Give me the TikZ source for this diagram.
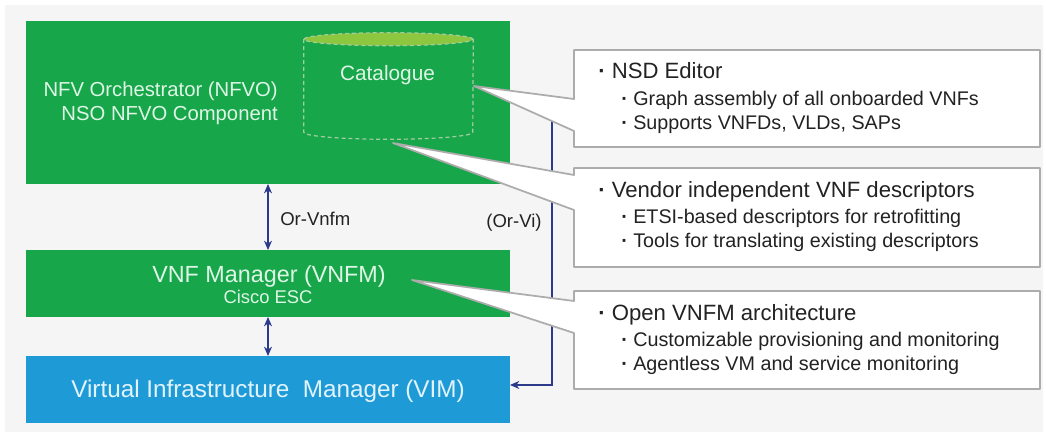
\documentclass[tikz,border=0pt]{standalone}
\usepackage{fontspec}
\setmainfont{Liberation Sans}
\usetikzlibrary{arrows.meta,calc}

\definecolor{bggrey}{RGB}{245,245,245}
\definecolor{nfvgreen}{RGB}{24,166,74}
\definecolor{catgreen}{RGB}{141,198,63}
\definecolor{vimblue}{RGB}{30,155,215}
\definecolor{mint}{RGB}{222,246,230}
\definecolor{skytext}{RGB}{226,243,252}
\definecolor{navy}{RGB}{44,58,140}
\definecolor{callgrey}{RGB}{172,172,172}
\definecolor{dashgrey}{RGB}{160,204,160}
\definecolor{ink}{RGB}{34,34,34}

\newcommand{\fsz}[1]{\fontsize{#1pt}{#1pt}\selectfont}
\newcommand{\bdot}{{\bfseries ·}\ }

\begin{document}
\begin{tikzpicture}[x=0.75pt,y=-0.75pt,
  funcbox/.style={rectangle,inner sep=0pt,outer sep=0pt,draw=none,minimum width=363pt},
  boxtext/.style={inner sep=0pt,text=mint},
  vimtext/.style={inner sep=0pt,text=skytext},
  lbl/.style={inner sep=0pt,text=ink,font=\fsz{13.9}},
  catdash/.style={draw=dashgrey,line width=0.9pt,dash pattern=on 3pt off 2.2pt},
  conn/.style={draw=navy,line width=0.8pt},
  >={Stealth[length=7pt,width=6pt,inset=2.2pt]},
  callbox/.style={rectangle,inner sep=0pt,outer sep=0pt,draw=none,minimum width=349.5pt},
  callout/.style={fill=white,draw=callgrey,line width=1.3pt,line join=round},
  head/.style={inner sep=0pt,text=ink,font=\fsz{16.6}},
  item/.style={inner sep=0pt,text=ink,font=\fsz{14.8}}]

\useasboundingbox (0,0) rectangle (1046,435);
\fill[bggrey] (5,5) rectangle (1043,432);

% functional blocks
\node[funcbox,fill=nfvgreen,minimum height=122.25pt] (nfvo) at (268,102.5) {};
\node[funcbox,fill=nfvgreen,minimum height=50.25pt] (vnfm) at (268,283.5) {};
\node[funcbox,fill=vimblue,minimum height=50.25pt] (vim) at (268,389.5) {};

\node[boxtext,anchor=base east,font=\fsz{15.2}] (nfvoname) at (278,97) {NFV Orchestrator (NFVO)};
\node[boxtext,anchor=base east,font=\fsz{15.2}] (nfvoimpl) at (278,121) {NSO NFVO Component};
\node[boxtext,anchor=base,font=\fsz{17.5}] (vnfmname) at (269,282) {VNF Manager (VNFM)};
\node[boxtext,anchor=base,font=\fsz{13.8}] (vnfmimpl) at (268,303) {Cisco ESC};
\node[vimtext,anchor=base,font=\fsz{18.2}] (vimname) at (268,397) {Virtual Infrastructure~ Manager (VIM)};

% catalogue cylinder
\node[inner sep=0pt,minimum width=126.75pt,minimum height=69.4pt] (catalogue) at (388.5,85.75) {};
\fill[catgreen] (catalogue.north) ellipse [x radius=63.4pt,y radius=4.9pt];
\draw[catdash] (catalogue.north) ellipse [x radius=63.4pt,y radius=4.9pt];
\draw[catdash] (catalogue.north west) -- (catalogue.south west)
  arc [start angle=180,end angle=360,x radius=63.4pt,y radius=5.25pt] -- (catalogue.north east);
\node[boxtext,anchor=base,font=\fsz{15.6}] (catname) at (387.5,80) {Catalogue};

% reference points
\coordinate (orvi) at (552,100);
\coordinate (tipnsd) at (474,86);
\coordinate (tipvnfd) at (393,143);
\coordinate (tipvnfm) at (412,280);

% reference point connections
\draw[conn,->] (nfvo.east |- orvi) -- (orvi) |- ([yshift=3.4pt]vim.east);
\draw[conn,<->] (nfvo.south) -- (vnfm.north);
\draw[conn,<->] (vnfm.south) -- (vim.north);
\node[lbl,anchor=base west] (orvnfmlbl) at (280,225) {Or-Vnfm};
\node[lbl,anchor=base] (orvilbl) at (514,227) {(Or-Vi)};

% callouts
\node[callbox,minimum height=72.75pt] (nsd) at (807,98.5) {};
\node[callbox,minimum height=74.25pt] (vnfd) at (807,217.5) {};
\node[callbox,minimum height=73.5pt] (openvnfm) at (807,340) {};

\filldraw[callout] (nsd.north west) -- (nsd.north east) -- (nsd.south east) -- (nsd.south west)
  -- (nsd.west |- 0,131) -- (tipnsd) -- (nsd.west |- 0,99) -- cycle;
\filldraw[callout] (vnfd.north west) -- (vnfd.north east) -- (vnfd.south east) -- (vnfd.south west)
  -- (vnfd.west |- 0,210) -- (tipvnfd) -- (vnfd.west |- 0,175) -- cycle;
\filldraw[callout] (openvnfm.north west) -- (openvnfm.north east) -- (openvnfm.south east) -- (openvnfm.south west)
  -- (openvnfm.west |- 0,333) -- (tipvnfm) -- (openvnfm.west |- 0,301) -- cycle;

\node[head,anchor=base west] (nsdhead) at (598,79) {\bdot NSD Editor};
\node[item,anchor=base west] (nsdone) at (621,105) {\bdot Graph assembly of all onboarded VNFs};
\node[item,anchor=base west] (nsdtwo) at (621,129) {\bdot Supports VNFDs, VLDs, SAPs};

\node[head,anchor=base west] (vnfdhead) at (598,197) {\bdot Vendor independent VNF descriptors};
\node[item,anchor=base west] (vnfdone) at (621,223) {\bdot ETSI-based descriptors for retrofitting};
\node[item,anchor=base west] (vnfdtwo) at (621,247) {\bdot Tools for translating existing descriptors};

\node[head,anchor=base west] (vnfmhead) at (598,320) {\bdot Open VNFM architecture};
\node[item,anchor=base west] (vnfmone) at (621,346) {\bdot Customizable provisioning and monitoring};
\node[item,anchor=base west] (vnfmtwo) at (621,370) {\bdot Agentless VM and service monitoring};
\end{tikzpicture}
\end{document}
